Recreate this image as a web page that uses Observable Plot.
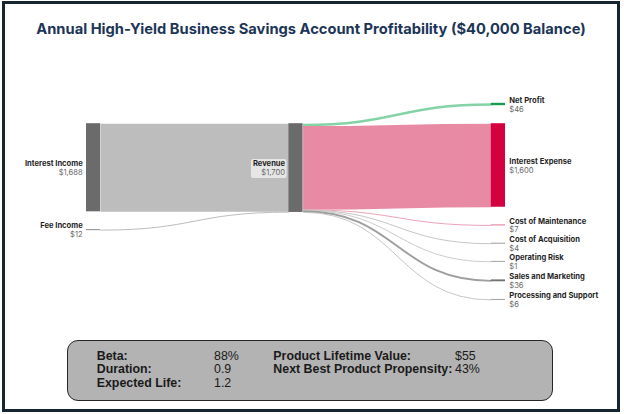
<!DOCTYPE html>
<html><head><meta charset="utf-8">
<script src="https://cdn.jsdelivr.net/npm/d3@7"></script>
<script src="https://cdn.jsdelivr.net/npm/@observablehq/plot@0.6"></script>
<style>
body{margin:0;background:#fff;}
#wrap{position:relative;width:624px;height:414px;overflow:hidden;background:#fff;}
#frame{position:absolute;left:2px;top:1px;width:618px;height:411px;box-sizing:border-box;border:3px solid #17252f;pointer-events:none;z-index:5;}
#title{position:absolute;left:0;top:20px;width:622px;text-align:center;font:700 14.7px Inter, sans-serif;color:#1c3557;white-space:nowrap;line-height:18px;}
#chart{position:absolute;left:0;top:50px;}
#stats{position:absolute;left:67px;top:340px;width:486px;height:61px;box-sizing:border-box;background:#b3b3b3;border:1.6px solid #262626;border-radius:11px;}
.s{position:absolute;font-family:"Liberation Sans", Arial, sans-serif;font-size:12.4px;color:#1a1a1a;line-height:14px;white-space:nowrap;}
.b{font-weight:700;}
</style></head>
<body>
<div id="wrap">
  <div id="title">Annual High-Yield Business Savings Account Profitability ($40,000 Balance)</div>
  <div id="chart"></div>
  <div id="stats"></div>
  <div id="frame"></div>
</div>
<script>
// ---- data ----
const nodeNames = ["Interest Income","Fee Income","Revenue","Net Profit","Interest Expense","Cost of Maintenance","Cost of Acquisition","Operating Risk","Sales and Marketing","Processing and Support"];
const nodeColumns = [0,0,1,2,2,2,2,2,2,2];
const linkSources = ["Interest Income","Fee Income","Revenue","Revenue","Revenue","Revenue","Revenue","Revenue","Revenue"];
const linkTargets = ["Revenue","Revenue","Net Profit","Interest Expense","Cost of Maintenance","Cost of Acquisition","Operating Risk","Sales and Marketing","Processing and Support"];
const linkValues = [1688,12,46,1600,7,4,1,36,6];
const statLabelsLeft = ["Beta:","Duration:","Expected Life:"];
const statValuesLeft = ["88%","0.9","1.2"];
const statLabelsRight = ["Product Lifetime Value:","Next Best Product Propensity:"];
const statValuesRight = ["$55","43%"];

// ---- styles ----
const nodeColor = {"Interest Income":"#6b6b6b","Fee Income":"#8c8c8c","Revenue":"#6b6b6b","Net Profit":"#1a9b50","Interest Expense":"#d5003f","Cost of Maintenance":"#e07592","Cost of Acquisition":"#9c9c9c","Operating Risk":"#a3a3a3","Sales and Marketing":"#727272","Processing and Support":"#a3a3a3"};
const linkColor = {"Revenue":"#bdbdbd","Net Profit":"#84d2a5","Interest Expense":"#e98aa4","Cost of Maintenance":"#eba2b6","Cost of Acquisition":"#c6c6c6","Operating Risk":"#cdcdcd","Sales and Marketing":"#9e9e9e","Processing and Support":"#c6c6c6"};

// ---- layout (value space) ----
const pad = 345;        // node padding, in value units
const nodeW = 0.07;     // node width, in column units
const links = linkValues.map((v,i)=>({source:linkSources[i],target:linkTargets[i],value:v}));
const nodes = nodeNames.map((n,i)=>{
  const inV = d3.sum(links.filter(l=>l.target===n),l=>l.value);
  const outV = d3.sum(links.filter(l=>l.source===n),l=>l.value);
  return {name:n,col:nodeColumns[i],value:Math.max(inV,outV)};
});
const byName = new Map(nodes.map(d=>[d.name,d]));
const cols = d3.groups(nodes,d=>d.col).sort((a,b)=>a[0]-b[0]).map(d=>d[1]);
const colTotals = cols.map(c=>d3.sum(c,d=>d.value)+pad*(c.length-1));
const maxTotal = d3.max(colTotals);
const tallest = cols[colTotals.indexOf(maxTotal)];
// stack the tallest column from 0
let acc = 0;
for (const n of tallest){ n.y0=acc; n.y1=acc+n.value; acc=n.y1+pad; }
const biggest = d3.greatest(tallest,d=>d.value);
// other columns start level with the top of the tallest column's largest node
for (const c of cols){
  if (c===tallest) continue;
  let a = biggest.y0;
  for (const n of c){ n.y0=a; n.y1=a+n.value; a=n.y1+pad; }
}
// link attachment points
for (const n of nodes){
  let s=n.y0; for (const l of links.filter(l=>l.source===n.name)){ l.sy0=s; l.sy1=s+l.value; s=l.sy1; }
  let t=n.y0; for (const l of links.filter(l=>l.target===n.name)){ l.ty0=t; l.ty1=t+l.value; t=l.ty1; }
}
for (const l of links){
  l.x1=byName.get(l.source).col+nodeW; l.x2=byName.get(l.target).col;
  l.ys=(l.sy0+l.sy1)/2; l.yt=(l.ty0+l.ty1)/2;
}
for (const n of nodes){ n.cy=(n.y0+n.y1)/2; n.label="$"+d3.format(",")(n.value); }

const yRange=[52.8,249.6];
const k=(yRange[1]-yRange[0])/maxTotal; // px per value unit
const minH=1/k;
const nodeRects = nodes.map(n=>({...n, r0:n.cy-Math.max(n.value,minH)/2, r1:n.cy+Math.max(n.value,minH)/2}));

const leftNodes = nodes.filter(n=>n.col===0);
const midNodes = nodes.filter(n=>n.col===1);
const rightNodes = nodes.filter(n=>n.col===2);
const font = "Inter, sans-serif";

const chart = Plot.plot({
  width:624, height:285, margin:0,
  x:{domain:[0,2+nodeW], range:[86,505], axis:null},
  y:{domain:[0,maxTotal], range:yRange, axis:null},
  style:{background:"transparent", overflow:"visible"},
  marks:[
    Plot.link(links,{x1:"x1",x2:"x2",y1:"ys",y2:"yt",curve:"bump-x",
      stroke:d=>linkColor[d.target]??linkColor[d.source], strokeWidth:d=>Math.max(1,d.value*k), strokeOpacity:1}),
    Plot.rect(nodeRects,{x1:"col",x2:d=>d.col+nodeW,y1:"r0",y2:"r1",fill:d=>nodeColor[d.name]}),
    Plot.rect(midNodes,{x1:"col",x2:"col",y1:"cy",y2:"cy",insetLeft:-37.5,insetRight:1.8,insetTop:-8.6,insetBottom:-10.4,fill:"#ffffff",fillOpacity:0.62,rx:2}),
    Plot.text([...leftNodes,...midNodes],{x:"col",y:"cy",text:"name",textAnchor:"end",dx:d=>0,dy:-4.2,fontSize:7.6,fontWeight:700,fill:"#1f1f1f",fontFamily:font,dx:-3.8}),
    Plot.text([...leftNodes,...midNodes],{x:"col",y:"cy",text:"label",textAnchor:"end",dy:4.6,fontSize:7.6,fill:"#6a6a6a",fontFamily:font,dx:-3.8}),
    Plot.text(rightNodes,{x:d=>d.col+nodeW,y:"cy",text:"name",textAnchor:"start",dy:-4.2,fontSize:7.6,fontWeight:700,fill:"#1f1f1f",fontFamily:font,dx:3.8}),
    Plot.text(rightNodes,{x:d=>d.col+nodeW,y:"cy",text:"label",textAnchor:"start",dy:4.6,fontSize:7.6,fill:"#6a6a6a",fontFamily:font,dx:3.8})
  ]
});
document.getElementById("chart").append(chart);

// ---- stats box ----
const wrap=document.getElementById("wrap");
const rowTops=[348.8,362.4,376.4];
function addText(txt,x,y,bold){const d=document.createElement("div");d.className="s"+(bold?" b":"");d.style.left=x+"px";d.style.top=y+"px";d.textContent=txt;wrap.insertBefore(d,document.getElementById("frame"));}
statLabelsLeft.forEach((t,i)=>addText(t,96.7,rowTops[i],true));
statValuesLeft.forEach((t,i)=>addText(t,214,rowTops[i],false));
statLabelsRight.forEach((t,i)=>addText(t,273.3,rowTops[i],true));
statValuesRight.forEach((t,i)=>addText(t,455,rowTops[i],false));
</script>
</body></html>
